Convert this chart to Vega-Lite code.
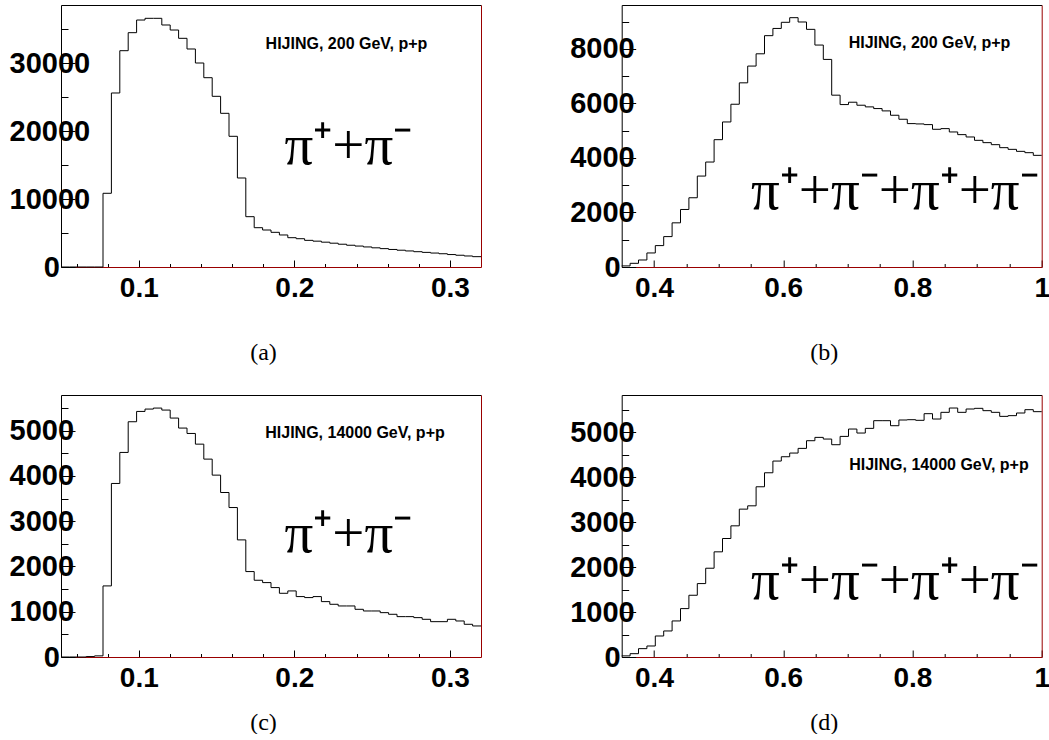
{
  "$schema": "https://vega.github.io/schema/vega-lite/v6.json",
  "padding": {"left": 2, "top": 5, "right": 0, "bottom": 0},
  "autosize": {"type": "pad"},
  "background": "white",
  "config": {
    "view": {"stroke": null},
    "axis": {"labelFont": "Liberation Sans", "labelFontWeight": "bold", "labelColor": "black", "tickColor": "black", "tickWidth": 1, "domainColor": "black", "domainWidth": 1, "labelFlush": false, "labelOverlap": false, "labelBound": false, "minExtent": 0, "grid": false, "zindex": 1}
  },
  "datasets": {
    "hist": [
      {"panel":"a","x":0.05,"count":0},{"panel":"a","x":0.0554,"count":0},{"panel":"a","x":0.0608,"count":0},{"panel":"a","x":0.0662,"count":0},{"panel":"a","x":0.0716,"count":0},
      {"panel":"a","x":0.077,"count":10840},{"panel":"a","x":0.0824,"count":25590},{"panel":"a","x":0.0878,"count":31810},{"panel":"a","x":0.0932,"count":34460},{"panel":"a","x":0.0986,"count":36320},
      {"panel":"a","x":0.104,"count":36570},{"panel":"a","x":0.1094,"count":36570},{"panel":"a","x":0.1148,"count":35590},{"panel":"a","x":0.1202,"count":34850},{"panel":"a","x":0.1256,"count":33630},
      {"panel":"a","x":0.131,"count":32060},{"panel":"a","x":0.1364,"count":30000},{"panel":"a","x":0.1418,"count":27840},{"panel":"a","x":0.1472,"count":25100},{"panel":"a","x":0.1526,"count":22600},
      {"panel":"a","x":0.158,"count":19220},{"panel":"a","x":0.1634,"count":13090},{"panel":"a","x":0.1688,"count":7400},{"panel":"a","x":0.1742,"count":5780},{"panel":"a","x":0.1796,"count":5440},
      {"panel":"a","x":0.185,"count":5100},{"panel":"a","x":0.1904,"count":4710},{"panel":"a","x":0.1958,"count":4310},{"panel":"a","x":0.2012,"count":4160},{"panel":"a","x":0.2066,"count":3920},
      {"panel":"a","x":0.212,"count":3800},{"panel":"a","x":0.2174,"count":3650},{"panel":"a","x":0.2228,"count":3500},{"panel":"a","x":0.2282,"count":3350},{"panel":"a","x":0.2336,"count":3200},
      {"panel":"a","x":0.239,"count":3080},{"panel":"a","x":0.2444,"count":2950},{"panel":"a","x":0.2498,"count":2820},{"panel":"a","x":0.2552,"count":2700},{"panel":"a","x":0.2606,"count":2580},
      {"panel":"a","x":0.266,"count":2470},{"panel":"a","x":0.2714,"count":2360},{"panel":"a","x":0.2768,"count":2250},{"panel":"a","x":0.2822,"count":2150},{"panel":"a","x":0.2876,"count":2050},
      {"panel":"a","x":0.293,"count":1950},{"panel":"a","x":0.2984,"count":1830},{"panel":"a","x":0.3038,"count":1730},{"panel":"a","x":0.3092,"count":1620},{"panel":"a","x":0.3146,"count":1520},
      {"panel":"a","x":0.32,"count":1520},

      {"panel":"b","x":0.35,"count":40},{"panel":"b","x":0.363,"count":135},{"panel":"b","x":0.376,"count":257},{"panel":"b","x":0.389,"count":515},{"panel":"b","x":0.402,"count":785},
      {"panel":"b","x":0.415,"count":1115},{"panel":"b","x":0.428,"count":1620},{"panel":"b","x":0.441,"count":2110},{"panel":"b","x":0.454,"count":2540},{"panel":"b","x":0.467,"count":3335},
      {"panel":"b","x":0.48,"count":3850},{"panel":"b","x":0.493,"count":4670},{"panel":"b","x":0.506,"count":5320},{"panel":"b","x":0.519,"count":5970},{"panel":"b","x":0.532,"count":6755},
      {"panel":"b","x":0.545,"count":7370},{"panel":"b","x":0.558,"count":7820},{"panel":"b","x":0.571,"count":8485},{"panel":"b","x":0.584,"count":8750},{"panel":"b","x":0.597,"count":8975},
      {"panel":"b","x":0.61,"count":9145},{"panel":"b","x":0.623,"count":8987},{"panel":"b","x":0.636,"count":8717},{"panel":"b","x":0.649,"count":8141},{"panel":"b","x":0.662,"count":7614},
      {"panel":"b","x":0.675,"count":6302},{"panel":"b","x":0.688,"count":5958},{"panel":"b","x":0.701,"count":6044},{"panel":"b","x":0.714,"count":5934},{"panel":"b","x":0.727,"count":5873},
      {"panel":"b","x":0.74,"count":5811},{"panel":"b","x":0.753,"count":5726},{"panel":"b","x":0.766,"count":5566},{"panel":"b","x":0.779,"count":5419},{"panel":"b","x":0.792,"count":5260},
      {"panel":"b","x":0.805,"count":5248},{"panel":"b","x":0.818,"count":5223},{"panel":"b","x":0.831,"count":5051},{"panel":"b","x":0.844,"count":5076},{"panel":"b","x":0.857,"count":4953},
      {"panel":"b","x":0.87,"count":4855},{"panel":"b","x":0.883,"count":4769},{"panel":"b","x":0.896,"count":4646},{"panel":"b","x":0.909,"count":4561},{"panel":"b","x":0.922,"count":4487},
      {"panel":"b","x":0.935,"count":4377},{"panel":"b","x":0.948,"count":4315},{"panel":"b","x":0.961,"count":4242},{"panel":"b","x":0.974,"count":4193},{"panel":"b","x":0.987,"count":4095},
      {"panel":"b","x":1.0,"count":4095},

      {"panel":"c","x":0.05,"count":0},{"panel":"c","x":0.0554,"count":0},{"panel":"c","x":0.0608,"count":0},{"panel":"c","x":0.0662,"count":10},{"panel":"c","x":0.0716,"count":25},
      {"panel":"c","x":0.077,"count":1571},{"panel":"c","x":0.0824,"count":3835},{"panel":"c","x":0.0878,"count":4521},{"panel":"c","x":0.0932,"count":5199},{"panel":"c","x":0.0986,"count":5427},
      {"panel":"c","x":0.104,"count":5479},{"panel":"c","x":0.1094,"count":5501},{"panel":"c","x":0.1148,"count":5457},{"panel":"c","x":0.1202,"count":5280},{"panel":"c","x":0.1256,"count":5059},
      {"panel":"c","x":0.131,"count":4940},{"panel":"c","x":0.1364,"count":4704},{"panel":"c","x":0.1418,"count":4373},{"panel":"c","x":0.1472,"count":4019},{"panel":"c","x":0.1526,"count":3635},
      {"panel":"c","x":0.158,"count":3303},{"panel":"c","x":0.1634,"count":2588},{"panel":"c","x":0.1688,"count":1888},{"panel":"c","x":0.1742,"count":1696},{"panel":"c","x":0.1796,"count":1644},
      {"panel":"c","x":0.185,"count":1534},{"panel":"c","x":0.1904,"count":1408},{"panel":"c","x":0.1958,"count":1460},{"panel":"c","x":0.2012,"count":1335},{"panel":"c","x":0.2066,"count":1313},
      {"panel":"c","x":0.212,"count":1335},{"panel":"c","x":0.2174,"count":1224},{"panel":"c","x":0.2228,"count":1165},{"panel":"c","x":0.2282,"count":1128},{"panel":"c","x":0.2336,"count":1128},
      {"panel":"c","x":0.239,"count":1054},{"panel":"c","x":0.2444,"count":1017},{"panel":"c","x":0.2498,"count":1017},{"panel":"c","x":0.2552,"count":980},{"panel":"c","x":0.2606,"count":944},
      {"panel":"c","x":0.266,"count":892},{"panel":"c","x":0.2714,"count":892},{"panel":"c","x":0.2768,"count":870},{"panel":"c","x":0.2822,"count":833},{"panel":"c","x":0.2876,"count":781},
      {"panel":"c","x":0.293,"count":781},{"panel":"c","x":0.2984,"count":833},{"panel":"c","x":0.3038,"count":796},{"panel":"c","x":0.3092,"count":723},{"panel":"c","x":0.3146,"count":686},
      {"panel":"c","x":0.32,"count":686},

      {"panel":"d","x":0.35,"count":25},{"panel":"d","x":0.363,"count":74},{"panel":"d","x":0.376,"count":186},{"panel":"d","x":0.389,"count":245},{"panel":"d","x":0.402,"count":468},
      {"panel":"d","x":0.415,"count":580},{"panel":"d","x":0.428,"count":803},{"panel":"d","x":0.441,"count":1078},{"panel":"d","x":0.454,"count":1375},{"panel":"d","x":0.467,"count":1635},
      {"panel":"d","x":0.48,"count":1977},{"panel":"d","x":0.493,"count":2342},{"panel":"d","x":0.506,"count":2639},{"panel":"d","x":0.519,"count":2921},{"panel":"d","x":0.532,"count":3293},
      {"panel":"d","x":0.545,"count":3367},{"panel":"d","x":0.558,"count":3791},{"panel":"d","x":0.571,"count":4103},{"panel":"d","x":0.584,"count":4364},{"panel":"d","x":0.597,"count":4460},
      {"panel":"d","x":0.61,"count":4542},{"panel":"d","x":0.623,"count":4646},{"panel":"d","x":0.636,"count":4817},{"panel":"d","x":0.649,"count":4891},{"panel":"d","x":0.662,"count":4854},
      {"panel":"d","x":0.675,"count":4728},{"panel":"d","x":0.688,"count":4913},{"panel":"d","x":0.701,"count":5077},{"panel":"d","x":0.714,"count":4988},{"panel":"d","x":0.727,"count":5092},
      {"panel":"d","x":0.74,"count":5263},{"panel":"d","x":0.753,"count":5263},{"panel":"d","x":0.766,"count":5151},{"panel":"d","x":0.779,"count":5278},{"panel":"d","x":0.792,"count":5285},
      {"panel":"d","x":0.805,"count":5271},{"panel":"d","x":0.818,"count":5419},{"panel":"d","x":0.831,"count":5300},{"panel":"d","x":0.844,"count":5449},{"panel":"d","x":0.857,"count":5545},
      {"panel":"d","x":0.87,"count":5449},{"panel":"d","x":0.883,"count":5523},{"panel":"d","x":0.896,"count":5538},{"panel":"d","x":0.909,"count":5486},{"panel":"d","x":0.922,"count":5449},
      {"panel":"d","x":0.935,"count":5359},{"panel":"d","x":0.948,"count":5375},{"panel":"d","x":0.961,"count":5434},{"panel":"d","x":0.974,"count":5508},{"panel":"d","x":0.987,"count":5464},
      {"panel":"d","x":1.0,"count":5464}
    ],
    "notes": [
      {"panel":"a","kind":"gen","x":0.2335,"y":32794,"label":"HIJING, 200 GeV, p+p"},
      {"panel":"b","kind":"gen","x":0.8264,"y":8202,"label":"HIJING, 200 GeV, p+p"},
      {"panel":"c","kind":"gen","x":0.239,"y":4944,"label":"HIJING, 14000 GeV, p+p"},
      {"panel":"d","kind":"gen","x":0.841,"y":4269,"label":"HIJING, 14000 GeV, p+p"},
      {"panel":"a","kind":"pi","x":0.2347,"y":15147,"label":"π⁺+π⁻"},
      {"panel":"b","kind":"pi","x":0.7727,"y":2133,"label":"π⁺+π⁻+π⁺+π⁻"},
      {"panel":"c","kind":"pi","x":0.2347,"y":2314,"label":"π⁺+π⁻"},
      {"panel":"d","kind":"pi","x":0.7727,"y":1285,"label":"π⁺+π⁻+π⁺+π⁻"}
    ]
  },
  "columns": 2,
  "spacing": {"row": 128, "column": 140.7},
  "bounds": "flush",
  "concat": [
    {
      "width": 420, "height": 262,
      "resolve": {"axis": {"x": "independent", "y": "independent"}},
      "layer": [
        {
          "data": {"name": "hist"},
          "transform": [{"filter": "datum.panel == 'a'"}],
          "mark": {"type": "line", "interpolate": "step-after", "color": "black", "strokeWidth": 1},
          "encoding": {
            "x": {"field": "x", "type": "quantitative", "scale": {"domain": [0.05, 0.32], "nice": false, "zero": false},
              "axis": {"orient": "bottom", "values": [0.06,0.08,0.1,0.12,0.14,0.16,0.18,0.2,0.22,0.24,0.26,0.28,0.3],
                "labelExpr": "abs(datum.value*10-round(datum.value*10))<0.001 ? format(datum.value,'~g') : ''",
                "tickSize": {"condition": {"test": "abs(datum.value*10-round(datum.value*10))<0.001", "value": -7}, "value": -3.5},
                "labelPadding": 14, "labelFontSize": 28, "labelAlign": "center", "labelBaseline": "top", "domainColor": "#990000",
                "title": "(a)", "titleFont": "Liberation Serif", "titleFontSize": 24, "titleFontWeight": "normal", "titleColor": "black",
                "titleX": 202, "titleY": 92, "titleAlign": "center", "titleBaseline": "alphabetic", "titleAngle": 0}},
            "y": {"field": "count", "type": "quantitative", "scale": {"domain": [0, 38530], "nice": false, "zero": false},
              "axis": {"orient": "left", "values": [0,5000,10000,15000,20000,25000,30000,35000], "format": "d",
                "labelExpr": "datum.value % 10000 == 0 ? datum.label : ''",
                "tickSize": {"condition": {"test": "datum.value % 10000 == 0", "value": -14}, "value": -7},
                "labelAlign": {"condition": {"test": "datum.value == 0", "value": "right"}, "value": "left"},
                "labelPadding": {"condition": {"test": "datum.value == 0", "value": 15.5}, "value": 66},
                "labelFontSize": 29, "labelBaseline": "middle", "title": null}}
          }
        },
        {
          "data": {"name": "notes"},
          "transform": [{"filter": "datum.panel == 'a' && datum.kind == 'gen'"}],
          "mark": {"type": "text", "font": "Liberation Sans", "fontWeight": "bold", "fontSize": 16, "align": "center", "baseline": "middle", "color": "black"},
          "encoding": {
            "x": {"field": "x", "type": "quantitative", "scale": {"domain": [0.05, 0.32], "nice": false, "zero": false},
              "axis": {"orient": "top", "ticks": false, "labels": false, "domain": true, "domainColor": "black", "title": null}},
            "y": {"field": "y", "type": "quantitative", "scale": {"domain": [0, 38530], "nice": false, "zero": false},
              "axis": {"orient": "right", "ticks": false, "labels": false, "domain": true, "domainColor": "#990000", "title": null}},
            "text": {"field": "label"}
          }
        },
        {
          "data": {"name": "notes"},
          "transform": [{"filter": "datum.panel == 'a' && datum.kind == 'pi'"}],
          "mark": {"type": "text", "font": "Liberation Serif", "fontSize": 57, "align": "center", "baseline": "alphabetic", "color": "black"},
          "encoding": {
            "x": {"field": "x", "type": "quantitative", "scale": {"domain": [0.05, 0.32], "nice": false, "zero": false}, "axis": null},
            "y": {"field": "y", "type": "quantitative", "scale": {"domain": [0, 38530], "nice": false, "zero": false}, "axis": null},
            "text": {"field": "label"}
          }
        }
      ]
    },
    {
      "width": 420, "height": 262,
      "resolve": {"axis": {"x": "independent", "y": "independent"}},
      "layer": [
        {
          "data": {"name": "hist"},
          "transform": [{"filter": "datum.panel == 'b'"}],
          "mark": {"type": "line", "interpolate": "step-after", "color": "black", "strokeWidth": 1},
          "encoding": {
            "x": {"field": "x", "type": "quantitative", "scale": {"domain": [0.35, 1.0], "nice": false, "zero": false},
              "axis": {"orient": "bottom", "values": [0.4,0.45,0.5,0.55,0.6,0.65,0.7,0.75,0.8,0.85,0.9,0.95,1.0],
                "labelExpr": "abs(datum.value*5-round(datum.value*5))<0.001 ? format(datum.value,'~g') : ''",
                "tickSize": {"condition": {"test": "abs(datum.value*5-round(datum.value*5))<0.001", "value": -7}, "value": -3.5},
                "labelPadding": 14, "labelFontSize": 28, "labelAlign": "center", "labelBaseline": "top", "domainColor": "#990000",
                "title": "(b)", "titleFont": "Liberation Serif", "titleFontSize": 24, "titleFontWeight": "normal", "titleColor": "black",
                "titleX": 202, "titleY": 92, "titleAlign": "center", "titleBaseline": "alphabetic", "titleAngle": 0}},
            "y": {"field": "count", "type": "quantitative", "scale": {"domain": [0, 9610], "nice": false, "zero": false},
              "axis": {"orient": "left", "values": [0,1000,2000,3000,4000,5000,6000,7000,8000,9000], "format": "d",
                "labelExpr": "datum.value % 2000 == 0 ? datum.label : ''",
                "tickSize": {"condition": {"test": "datum.value % 2000 == 0", "value": -14}, "value": -7},
                "labelAlign": {"condition": {"test": "datum.value == 0", "value": "right"}, "value": "left"},
                "labelPadding": {"condition": {"test": "datum.value == 0", "value": 15.5}, "value": 66},
                "labelFontSize": 29, "labelBaseline": "middle", "title": null}}
          }
        },
        {
          "data": {"name": "notes"},
          "transform": [{"filter": "datum.panel == 'b' && datum.kind == 'gen'"}],
          "mark": {"type": "text", "font": "Liberation Sans", "fontWeight": "bold", "fontSize": 16, "align": "center", "baseline": "middle", "color": "black"},
          "encoding": {
            "x": {"field": "x", "type": "quantitative", "scale": {"domain": [0.35, 1.0], "nice": false, "zero": false},
              "axis": {"orient": "top", "ticks": false, "labels": false, "domain": true, "domainColor": "black", "title": null}},
            "y": {"field": "y", "type": "quantitative", "scale": {"domain": [0, 9610], "nice": false, "zero": false},
              "axis": {"orient": "right", "ticks": false, "labels": false, "domain": true, "domainColor": "#990000", "title": null}},
            "text": {"field": "label"}
          }
        },
        {
          "data": {"name": "notes"},
          "transform": [{"filter": "datum.panel == 'b' && datum.kind == 'pi'"}],
          "mark": {"type": "text", "font": "Liberation Serif", "fontSize": 57, "align": "center", "baseline": "alphabetic", "color": "black"},
          "encoding": {
            "x": {"field": "x", "type": "quantitative", "scale": {"domain": [0.35, 1.0], "nice": false, "zero": false}, "axis": null},
            "y": {"field": "y", "type": "quantitative", "scale": {"domain": [0, 9610], "nice": false, "zero": false}, "axis": null},
            "text": {"field": "label"}
          }
        }
      ]
    },
    {
      "width": 420, "height": 262,
      "resolve": {"axis": {"x": "independent", "y": "independent"}},
      "layer": [
        {
          "data": {"name": "hist"},
          "transform": [{"filter": "datum.panel == 'c'"}],
          "mark": {"type": "line", "interpolate": "step-after", "color": "black", "strokeWidth": 1},
          "encoding": {
            "x": {"field": "x", "type": "quantitative", "scale": {"domain": [0.05, 0.32], "nice": false, "zero": false},
              "axis": {"orient": "bottom", "values": [0.06,0.08,0.1,0.12,0.14,0.16,0.18,0.2,0.22,0.24,0.26,0.28,0.3],
                "labelExpr": "abs(datum.value*10-round(datum.value*10))<0.001 ? format(datum.value,'~g') : ''",
                "tickSize": {"condition": {"test": "abs(datum.value*10-round(datum.value*10))<0.001", "value": -7}, "value": -3.5},
                "labelPadding": 14, "labelFontSize": 28, "labelAlign": "center", "labelBaseline": "top", "domainColor": "#990000",
                "title": "(c)", "titleFont": "Liberation Serif", "titleFontSize": 24, "titleFontWeight": "normal", "titleColor": "black",
                "titleX": 202, "titleY": 72, "titleAlign": "center", "titleBaseline": "alphabetic", "titleAngle": 0}},
            "y": {"field": "count", "type": "quantitative", "scale": {"domain": [0, 5790], "nice": false, "zero": false},
              "axis": {"orient": "left", "values": [0,500,1000,1500,2000,2500,3000,3500,4000,4500,5000,5500], "format": "d",
                "labelExpr": "datum.value % 1000 == 0 ? datum.label : ''",
                "tickSize": {"condition": {"test": "datum.value % 1000 == 0", "value": -14}, "value": -7},
                "labelAlign": {"condition": {"test": "datum.value == 0", "value": "right"}, "value": "left"},
                "labelPadding": {"condition": {"test": "datum.value == 0", "value": 15.5}, "value": 66},
                "labelFontSize": 29, "labelBaseline": "middle", "title": null}}
          }
        },
        {
          "data": {"name": "notes"},
          "transform": [{"filter": "datum.panel == 'c' && datum.kind == 'gen'"}],
          "mark": {"type": "text", "font": "Liberation Sans", "fontWeight": "bold", "fontSize": 16, "align": "center", "baseline": "middle", "color": "black"},
          "encoding": {
            "x": {"field": "x", "type": "quantitative", "scale": {"domain": [0.05, 0.32], "nice": false, "zero": false},
              "axis": {"orient": "top", "ticks": false, "labels": false, "domain": true, "domainColor": "black", "title": null}},
            "y": {"field": "y", "type": "quantitative", "scale": {"domain": [0, 5790], "nice": false, "zero": false},
              "axis": {"orient": "right", "ticks": false, "labels": false, "domain": true, "domainColor": "#990000", "title": null}},
            "text": {"field": "label"}
          }
        },
        {
          "data": {"name": "notes"},
          "transform": [{"filter": "datum.panel == 'c' && datum.kind == 'pi'"}],
          "mark": {"type": "text", "font": "Liberation Serif", "fontSize": 57, "align": "center", "baseline": "alphabetic", "color": "black"},
          "encoding": {
            "x": {"field": "x", "type": "quantitative", "scale": {"domain": [0.05, 0.32], "nice": false, "zero": false}, "axis": null},
            "y": {"field": "y", "type": "quantitative", "scale": {"domain": [0, 5790], "nice": false, "zero": false}, "axis": null},
            "text": {"field": "label"}
          }
        }
      ]
    },
    {
      "width": 420, "height": 262,
      "resolve": {"axis": {"x": "independent", "y": "independent"}},
      "layer": [
        {
          "data": {"name": "hist"},
          "transform": [{"filter": "datum.panel == 'd'"}],
          "mark": {"type": "line", "interpolate": "step-after", "color": "black", "strokeWidth": 1},
          "encoding": {
            "x": {"field": "x", "type": "quantitative", "scale": {"domain": [0.35, 1.0], "nice": false, "zero": false},
              "axis": {"orient": "bottom", "values": [0.4,0.45,0.5,0.55,0.6,0.65,0.7,0.75,0.8,0.85,0.9,0.95,1.0],
                "labelExpr": "abs(datum.value*5-round(datum.value*5))<0.001 ? format(datum.value,'~g') : ''",
                "tickSize": {"condition": {"test": "abs(datum.value*5-round(datum.value*5))<0.001", "value": -7}, "value": -3.5},
                "labelPadding": 14, "labelFontSize": 28, "labelAlign": "center", "labelBaseline": "top", "domainColor": "#990000",
                "title": "(d)", "titleFont": "Liberation Serif", "titleFontSize": 24, "titleFontWeight": "normal", "titleColor": "black",
                "titleX": 202, "titleY": 72, "titleAlign": "center", "titleBaseline": "alphabetic", "titleAngle": 0}},
            "y": {"field": "count", "type": "quantitative", "scale": {"domain": [0, 5835], "nice": false, "zero": false},
              "axis": {"orient": "left", "values": [0,500,1000,1500,2000,2500,3000,3500,4000,4500,5000,5500], "format": "d",
                "labelExpr": "datum.value % 1000 == 0 ? datum.label : ''",
                "tickSize": {"condition": {"test": "datum.value % 1000 == 0", "value": -14}, "value": -7},
                "labelAlign": {"condition": {"test": "datum.value == 0", "value": "right"}, "value": "left"},
                "labelPadding": {"condition": {"test": "datum.value == 0", "value": 15.5}, "value": 66},
                "labelFontSize": 29, "labelBaseline": "middle", "title": null}}
          }
        },
        {
          "data": {"name": "notes"},
          "transform": [{"filter": "datum.panel == 'd' && datum.kind == 'gen'"}],
          "mark": {"type": "text", "font": "Liberation Sans", "fontWeight": "bold", "fontSize": 16, "align": "center", "baseline": "middle", "color": "black"},
          "encoding": {
            "x": {"field": "x", "type": "quantitative", "scale": {"domain": [0.35, 1.0], "nice": false, "zero": false},
              "axis": {"orient": "top", "ticks": false, "labels": false, "domain": true, "domainColor": "black", "title": null}},
            "y": {"field": "y", "type": "quantitative", "scale": {"domain": [0, 5835], "nice": false, "zero": false},
              "axis": {"orient": "right", "ticks": false, "labels": false, "domain": true, "domainColor": "#990000", "title": null}},
            "text": {"field": "label"}
          }
        },
        {
          "data": {"name": "notes"},
          "transform": [{"filter": "datum.panel == 'd' && datum.kind == 'pi'"}],
          "mark": {"type": "text", "font": "Liberation Serif", "fontSize": 57, "align": "center", "baseline": "alphabetic", "color": "black"},
          "encoding": {
            "x": {"field": "x", "type": "quantitative", "scale": {"domain": [0.35, 1.0], "nice": false, "zero": false}, "axis": null},
            "y": {"field": "y", "type": "quantitative", "scale": {"domain": [0, 5835], "nice": false, "zero": false}, "axis": null},
            "text": {"field": "label"}
          }
        }
      ]
    }
  ]
}
